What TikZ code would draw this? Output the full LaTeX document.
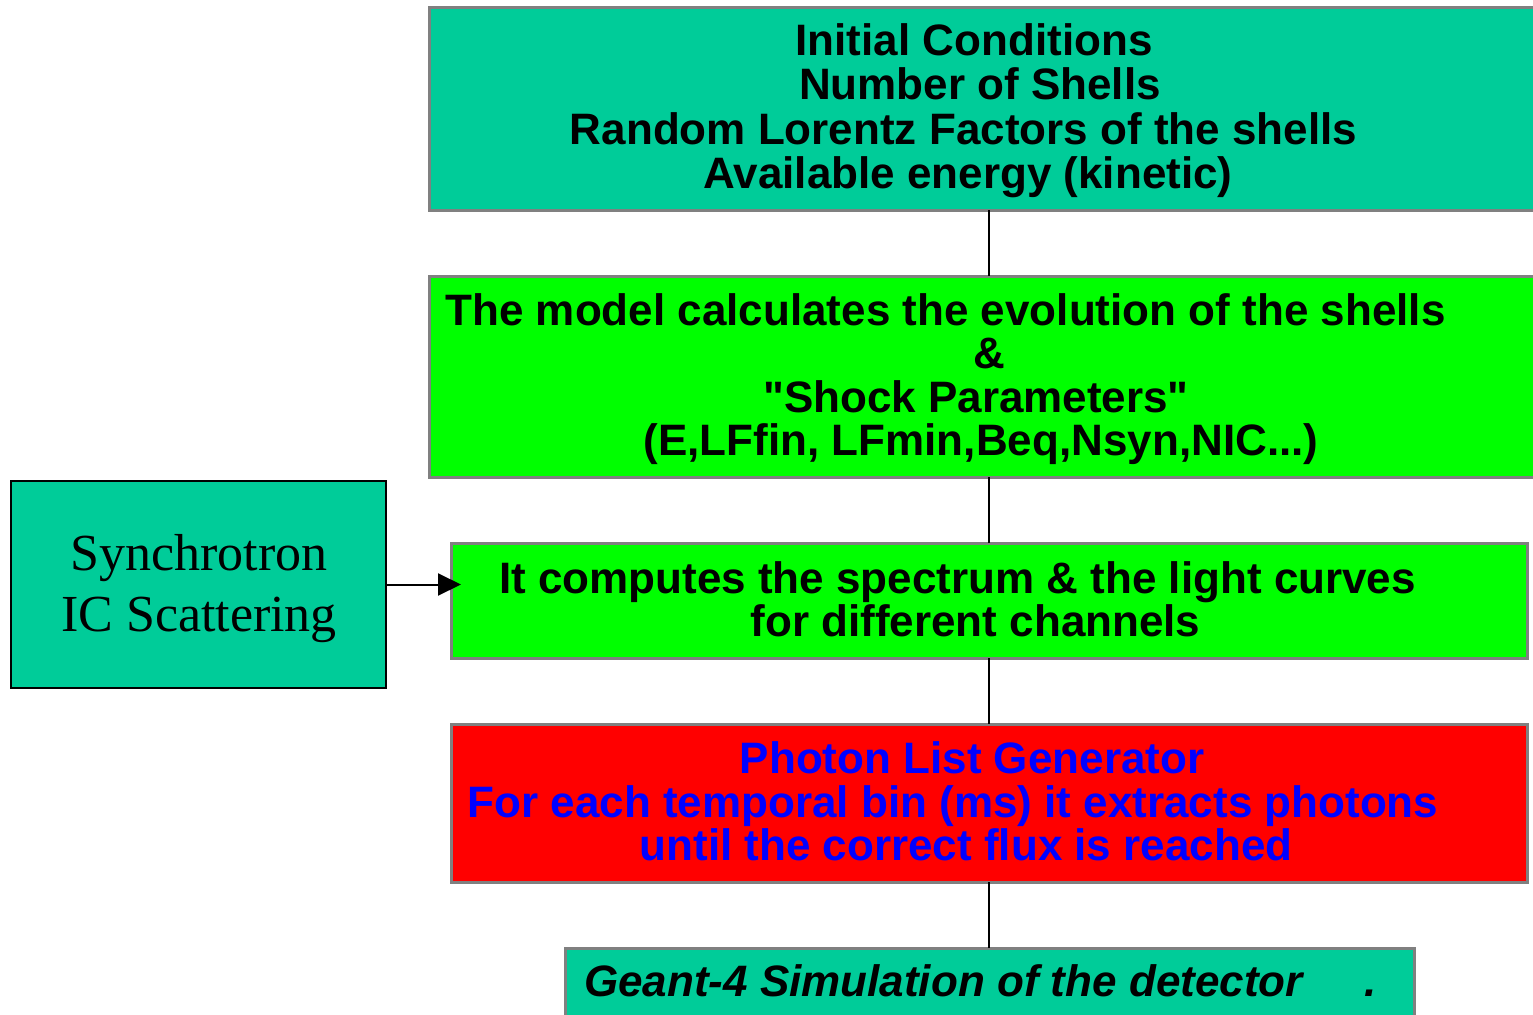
\documentclass[tikz,border=0pt]{standalone}
\usepackage{fontspec}
\setmainfont{Liberation Sans}[Ligatures=TeXOff]
\newfontfamily\tnr{Liberation Serif}
\usetikzlibrary{arrows.meta}
\definecolor{tealbox}{HTML}{00CC99}
\definecolor{greenbox}{HTML}{00FF00}
\definecolor{redbox}{HTML}{FF0000}
\definecolor{bluetext}{HTML}{0000FF}
\definecolor{boxgray}{HTML}{808080}
\begin{document}
\begin{tikzpicture}[x=1pt,y=-1pt,
  box/.style={rectangle, draw=boxgray, line width=3pt, inner sep=0pt, outer sep=0pt},
  txt/.style={anchor=base, inner sep=0pt, outer sep=0pt, font=\fontsize{44}{44}\selectfont\bfseries},
  serif/.style={anchor=base, inner sep=0pt, outer sep=0pt, font=\fontsize{52}{62}\selectfont\tnr},
  conn/.style={draw=black, line width=2pt}]
\useasboundingbox (0,0) rectangle (1533,1014);
\clip (0,0) rectangle (1533,1014);
% boxes
\node[box, fill=tealbox, minimum width=1116pt, minimum height=202pt] (init) at (987,109) {};
\node[box, fill=greenbox, minimum width=1116pt, minimum height=201pt] (model) at (987,376.5) {};
\node[box, fill=greenbox, minimum width=1076pt, minimum height=115pt] (comp) at (989,600.5) {};
\node[box, fill=redbox, minimum width=1076pt, minimum height=158pt] (gen) at (989,803) {};
\node[box, fill=tealbox, minimum width=849pt, minimum height=132pt] (geant) at (989.5,1014) {};
\node[rectangle, draw=black, line width=2pt, fill=tealbox, inner sep=0pt, outer sep=0pt, minimum width=375pt, minimum height=207pt] (synch) at (198.5,584.5) {};
% connectors
\coordinate (spine) at (989,0);
\draw[conn] (init.south -| spine) -- (model.north -| spine);
\draw[conn] (model.south -| spine) -- (comp.north -| spine);
\draw[conn] (comp.south -| spine) -- (gen.north -| spine);
\draw[conn] (gen.south -| spine) -- (geant.north -| spine);
\draw[conn, -{Triangle[length=23pt,width=22pt]}] (synch.east) -- ([xshift=10pt]synch.east -| comp.west);
% texts
\node[txt] (i1) at (974,56) {Initial Conditions};
\node[txt] (i2) at (980,100) {Number of Shells};
\node[txt] (i3) at (963.5,144) {Random Lorentz Factors of the shells};
\node[txt] (i4) at (968,188) {Available energy (kinetic)};
\node[txt] (m1) at (945.5,325) {The model calculates the evolution of the shells};
\node[txt] (m2) at (989,368) {\&};
\node[txt] (m3) at (976,412) {"Shock Parameters"};
\node[txt] (m4) at (981,455) {(E,LFfin, LFmin,Beq,Nsyn,NIC...)};
\node[txt] (c1) at (957.5,593) {It computes the spectrum \& the light curves};
\node[txt] (c2) at (975.5,636) {for different channels};
\node[txt, text=bluetext] (g1) at (972,773) {Photon List Generator};
\node[txt, text=bluetext] (g2) at (953,817) {For each temporal bin (ms) it extracts photons};
\node[txt, text=bluetext] (g3) at (966,860) {until the correct flux is reached};
\node[txt, anchor=base west, font=\fontsize{44}{44}\selectfont\bfseries\itshape] (ge1) at (584,996) {Geant-4 Simulation of the detector\hspace*{62pt}.};
\node[serif] (s1) at (199,570) {Synchrotron};
\node[serif] (s2) at (199,631) {IC Scattering};
\end{tikzpicture}
\end{document}
